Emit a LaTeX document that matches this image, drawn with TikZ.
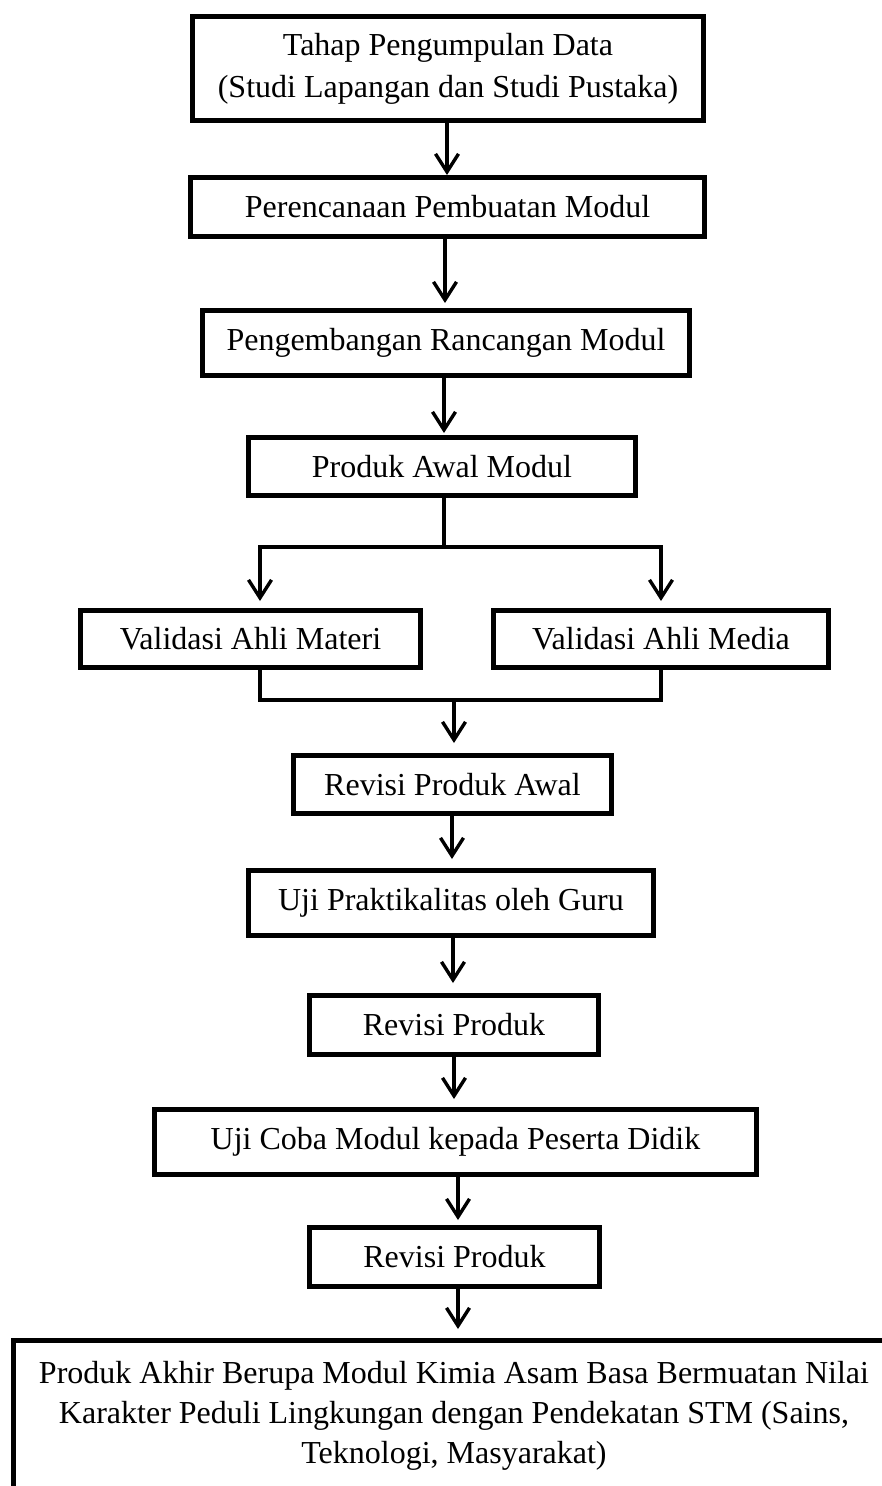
\documentclass[tikz,border=0pt]{standalone}
\usepackage{fontspec}
\setmainfont{Liberation Serif}
\usetikzlibrary{arrows.meta,calc}
\begin{document}
\begin{tikzpicture}[x=1pt,y=-1pt,
  stepbox/.style={draw, line width=5pt, inner sep=0pt, align=center,
    font=\fontsize{32}{40}\selectfont},
  arr/.style={line width=3.4pt, line cap=butt,
    -{Straight Barb[length=18pt,width=23pt]}},
  ln/.style={line width=3.4pt, line cap=rect}]
\useasboundingbox (0,0) rectangle (882,1486);
\clip (0,0) rectangle (882,1486);
\fill[white] (0,0) rectangle (882,1486);

\node[stepbox, minimum width=511pt, minimum height=104pt,
  font=\fontsize{32}{42}\selectfont] (b1) at (448,68.5)
  {Tahap Pengumpulan Data\\(Studi Lapangan dan Studi Pustaka)};
\node[stepbox, minimum width=514pt, minimum height=59pt] (b2) at (447.5,207)
  {Perencanaan Pembuatan Modul};
\node[stepbox, minimum width=487pt, minimum height=65pt] (b3) at (446,343)
  {Pengembangan Rancangan Modul};
\node[stepbox, minimum width=387pt, minimum height=58pt] (b4) at (442,466.5)
  {Produk Awal Modul};
\node[stepbox, minimum width=340pt, minimum height=57pt] (b5) at (250.5,639)
  {Validasi Ahli Materi};
\node[stepbox, minimum width=335pt, minimum height=57pt] (b6) at (661,639)
  {Validasi Ahli Media};
\node[stepbox, minimum width=318pt, minimum height=58pt] (b7) at (452.5,784.5)
  {Revisi Produk Awal};
\node[stepbox, minimum width=405pt, minimum height=65pt] (b8) at (451,903)
  {Uji Praktikalitas oleh Guru};
\node[stepbox, minimum width=289pt, minimum height=59pt] (b9) at (454,1025)
  {Revisi Produk};
\node[stepbox, minimum width=602pt, minimum height=65pt] (b10) at (455.5,1142)
  {Uji Coba Modul kepada Peserta Didik};
\node[stepbox, minimum width=290pt, minimum height=59pt] (b11) at (454.5,1257)
  {Revisi Produk};
\node[stepbox, minimum width=881pt, minimum height=151pt] (b12) at (454,1416)
  {Produk Akhir Berupa Modul Kimia Asam Basa Bermuatan Nilai\\
   Karakter Peduli Lingkungan dengan Pendekatan STM (Sains,\\
   Teknologi, Masyarakat)};

% straight arrows
\coordinate (a1) at (447,0);
\draw[arr] (b1.south -| a1) -- (b2.north -| a1);
\coordinate (a2) at (445,0);
\draw[arr, shorten >=5pt] (b2.south -| a2) -- (b3.north -| a2);
\coordinate (a3) at (444,0);
\draw[arr, shorten >=2pt] (b3.south -| a3) -- (b4.north -| a3);

% branch
\coordinate (s) at (444,547);
\coordinate (l) at (260,547);
\coordinate (r) at (661,547);
\draw[ln] (b4.south -| s) -- (s);
\draw[ln] (l) -- (r);
\draw[arr, shorten >=7pt] (l) -- (b5.north -| l);
\draw[arr, shorten >=7pt] (r) -- (b6.north -| r);

% merge
\coordinate (ml) at (260,700);
\coordinate (mr) at (661,700);
\coordinate (mm) at (454,700);
\draw[ln] (b5.south -| ml) -- (ml) -- (mr) -- (b6.south -| mr);
\draw[arr, shorten >=10pt] (mm) -- (b7.north -| mm);

\coordinate (a7) at (452,0);
\draw[arr, shorten >=9pt] (b7.south -| a7) -- (b8.north -| a7);
\coordinate (a8) at (453,0);
\draw[arr, shorten >=10pt] (b8.south -| a8) -- (b9.north -| a8);
\coordinate (a9) at (454,0);
\draw[arr, shorten >=8pt] (b9.south -| a9) -- (b10.north -| a9);
\coordinate (a10) at (458,0);
\draw[arr, shorten >=5pt] (b10.south -| a10) -- (b11.north -| a10);
\draw[arr, shorten >=9pt] (b11.south -| a10) -- (b12.north -| a10);
\end{tikzpicture}
\end{document}
